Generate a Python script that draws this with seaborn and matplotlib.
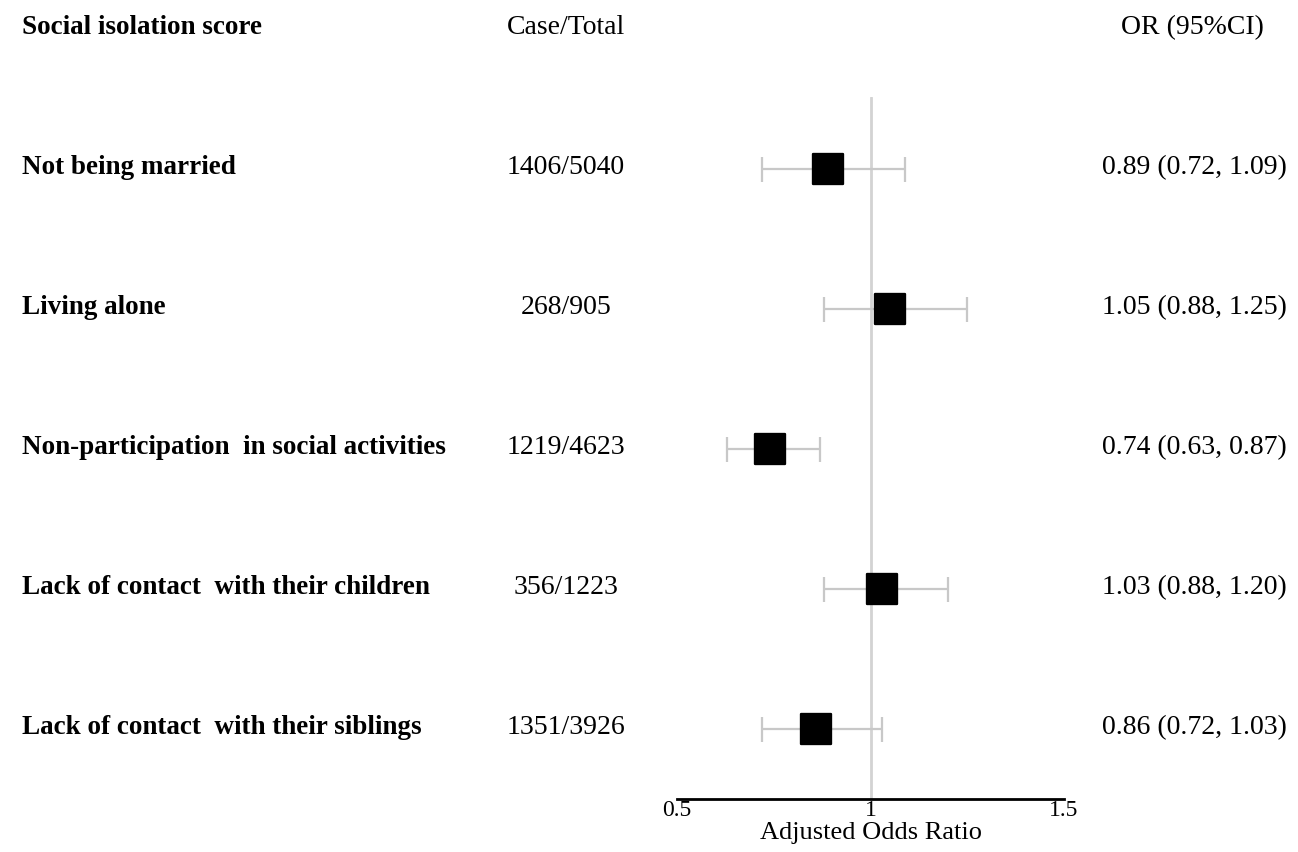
import matplotlib
matplotlib.use("Agg")
import matplotlib.pyplot as plt
import seaborn as sns
import pandas as pd

# Data
labels = [
    "Not being married",
    "Living alone",
    "Non-participation  in social activities",
    "Lack of contact  with their children",
    "Lack of contact  with their siblings",
]
case_total = ["1406/5040", "268/905", "1219/4623", "356/1223", "1351/3926"]
odds = [0.89, 1.05, 0.74, 1.03, 0.86]
lower = [0.72, 0.88, 0.63, 0.88, 0.72]
upper = [1.09, 1.25, 0.87, 1.20, 1.03]
or_text = ["0.89 (0.72, 1.09)", "1.05 (0.88, 1.25)", "0.74 (0.63, 0.87)",
           "1.03 (0.88, 1.20)", "0.86 (0.72, 1.03)"]

df = pd.DataFrame({"label": labels, "OR": odds, "lo": lower, "hi": upper,
                   "row": range(len(labels))})

sns.set_style("white")
plt.rcParams["font.family"] = ["Liberation Serif", "DejaVu Serif"]
plt.rcParams["text.color"] = "black"

W, H = 1298, 853
fig = plt.figure(figsize=(W / 100, H / 100), dpi=100)
# axes spans 0.5..1.5 horizontally, axis line near the bottom
ax = fig.add_axes([677 / W, (H - 800) / H, 387 / W, (800 - 98) / H])

ax.axvline(1, color="#d3d3d3", lw=2, zorder=0)
ax.errorbar(df["OR"], df["row"],
            xerr=[df["OR"] - df["lo"], df["hi"] - df["OR"]],
            fmt="none", ecolor="#c8c8c8", elinewidth=1.6, capsize=9,
            capthick=1.6, zorder=1)
sns.scatterplot(data=df, x="OR", y="row", marker="s", s=440, color="black",
                edgecolor="black", ax=ax, zorder=3, legend=False)

ax.set_xlim(0.5, 1.5)
ax.set_ylim(4.5, -0.514)
ax.set_xticks([0.5, 1, 1.5])
ax.set_xticklabels(["0.5", "1", "1.5"])
ax.set_yticks([])
for s in ["top", "right", "left"]:
    ax.spines[s].set_visible(False)
ax.spines["bottom"].set_linewidth(2)
ax.spines["bottom"].set_color("black")
ax.tick_params(axis="x", direction="inout", length=14, width=2, pad=-7,
               labelsize=17, colors="black")
ax.set_xlabel("Adjusted Odds Ratio", fontsize=19, labelpad=1, color="black")
ax.set_ylabel("")

BOLD = 19.5
REG = 20

# Text columns
ax.annotate("Social isolation score", xy=(22 / W, 1 - 28 / H), xycoords="figure fraction",
            fontsize=BOLD, fontweight="bold", va="center", ha="left")
ax.annotate("Case/Total", xy=(566 / W, 1 - 28 / H), xycoords="figure fraction",
            fontsize=REG, va="center", ha="center")
ax.annotate("OR (95%CI)", xy=(1192 / W, 1 - 28 / H), xycoords="figure fraction",
            fontsize=REG, va="center", ha="center")

for i, (lab, ct, ot) in enumerate(zip(labels, case_total, or_text)):
    yf = 1 - (168 + 140 * i) / H
    ax.annotate(lab, xy=(22 / W, yf), xycoords="figure fraction",
                fontsize=BOLD, fontweight="bold", va="center", ha="left")
    ax.annotate(ct, xy=(566 / W, yf), xycoords="figure fraction",
                fontsize=REG, va="center", ha="center")
    ax.annotate(ot, xy=(1287 / W, yf), xycoords="figure fraction",
                fontsize=REG, va="center", ha="right")

fig.savefig("out.png", dpi=100)
